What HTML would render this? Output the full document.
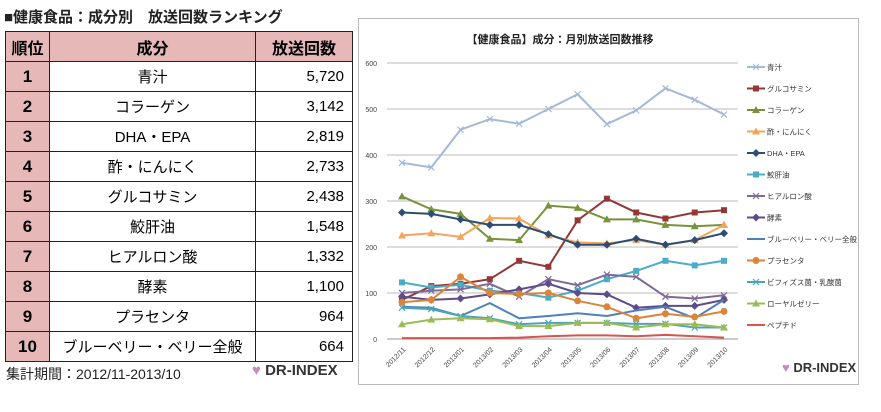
<!DOCTYPE html>
<html><head><meta charset="utf-8"><style>
body{margin:0;width:881px;height:412px;background:#fff;position:relative;overflow:hidden;font-family:"Liberation Sans","Noto Sans CJK JP",sans-serif}
#title{position:absolute;left:4px;top:6px;font-size:15px;font-weight:bold;color:#222}
table{position:absolute;left:5px;top:31px;border-collapse:collapse;font-size:15px}
td,th{border:1px solid #222;height:29px;padding:0}
th{background:#e6b9b8;font-size:16px}
td.r{background:#e6b9b8;text-align:center;font-weight:bold;font-size:17px;width:43px}
td.n{text-align:center;width:205px}
td.v{text-align:right;padding-right:8px;width:88px}
#period{position:absolute;left:6px;top:364px;font-size:14px;color:#222}
.logo{position:absolute;font-weight:bold;color:#333;font-size:15px}
.logo span{color:#c98ab8}
#chartbox{position:absolute;left:358px;top:18px;width:499px;height:365px;border:1px solid #bbb}
</style></head><body>
<div id="title">■健康食品：成分別　放送回数ランキング</div>
<table>
<tr><th>順位</th><th>成分</th><th>放送回数</th></tr>
<tr><td class="r">1</td><td class="n">青汁</td><td class="v">5,720</td></tr>
<tr><td class="r">2</td><td class="n">コラーゲン</td><td class="v">3,142</td></tr>
<tr><td class="r">3</td><td class="n">DHA・EPA</td><td class="v">2,819</td></tr>
<tr><td class="r">4</td><td class="n">酢・にんにく</td><td class="v">2,733</td></tr>
<tr><td class="r">5</td><td class="n">グルコサミン</td><td class="v">2,438</td></tr>
<tr><td class="r">6</td><td class="n">鮫肝油</td><td class="v">1,548</td></tr>
<tr><td class="r">7</td><td class="n">ヒアルロン酸</td><td class="v">1,332</td></tr>
<tr><td class="r">8</td><td class="n">酵素</td><td class="v">1,100</td></tr>
<tr><td class="r">9</td><td class="n">プラセンタ</td><td class="v">964</td></tr>
<tr><td class="r">10</td><td class="n">ブルーベリー・ベリー全般</td><td class="v">664</td></tr>
</table>
<div id="period">集計期間：2012/11-2013/10</div>
<div class="logo" style="left:252px;top:362px"><span>♥</span> DR-INDEX</div>
<div id="chartbox"></div>
<div class="logo" style="left:782px;top:360px;font-size:13px"><span>♥</span> DR-INDEX</div>
<svg id="chart" width="881" height="412" style="position:absolute;left:0;top:0"></svg>
<script>
const categories=["2012/11","2012/12","2013/01","2013/02","2013/03","2013/04","2013/05","2013/06","2013/07","2013/08","2013/09","2013/10"];
const seriesNames=["青汁","グルコサミン","コラーゲン","酢・にんにく","DHA・EPA","鮫肝油","ヒアルロン酸","酵素","ブルーベリー・ベリー全般","プラセンタ","ビフィズス菌・乳酸菌","ローヤルゼリー","ペプチド"];
const aojiru=[383,373,455,478,468,500,532,467,497,545,520,488];
const glucosamine=[85,115,120,130,170,157,258,305,275,262,275,280];
const collagen=[310,282,272,218,215,290,285,260,260,248,245,248];
const vinegar=[225,230,222,263,262,225,210,208,215,205,215,248];
const dha=[275,272,260,248,248,228,205,205,218,205,215,230];
const sharkOil=[123,112,118,105,100,90,105,130,148,170,160,170];
const hyaluronic=[100,105,108,120,92,130,117,140,135,92,88,95];
const enzyme=[92,85,88,97,108,120,100,97,68,72,72,85];
const blueberry=[70,68,50,78,45,50,56,50,62,70,45,85];
const placenta=[80,85,135,100,98,100,83,70,45,55,48,60];
const bifidus=[68,65,50,45,32,35,35,35,33,33,25,25];
const royalJelly=[32,42,45,43,28,28,35,35,25,32,32,25];
const peptide=[2,2,2,2,3,6,8,8,6,9,6,3];
const yTicks=[0,100,200,300,400,500,600];
const allSeries=[aojiru,glucosamine,collagen,vinegar,dha,sharkOil,hyaluronic,enzyme,blueberry,placenta,bifidus,royalJelly,peptide];
const colors=["#a5b8d8","#953735","#77933c","#f5a55a","#2c4d75","#4bacc6","#7f6a9a","#5f4b8b","#4f81bd","#d9863a","#4aa5b8","#9bbb59","#d9534f"];
const markers=["x","sq","tri","tri","dia","sq","x","dia","none","circ","x","tri","none"];
const svg=document.getElementById('chart');const NS="http://www.w3.org/2000/svg";
function el(t,a,p){const e=document.createElementNS(NS,t);for(const k in a)e.setAttribute(k,a[k]);(p||svg).appendChild(e);return e;}
const x0=387,x1=738,yTop=63,yBot=339;
function xs(i){return 402+i*(724-402)/(categories.length-1);}
function ys(v){return yBot-(v/600)*(yBot-yTop);}
let t=el('text',{x:560,y:43,'font-size':11,'text-anchor':'middle','font-weight':'bold',fill:'#222'});


t.textContent="【健康食品】成分：月別放送回数推移";
yTicks.forEach(v=>{const g=el('line',{x1:x0,x2:x1,y1:ys(v),y2:ys(v),stroke:v===0?'#999':'#bbb','stroke-width':1});


const l=el('text',{x:x0-10,y:ys(v)+3,'font-size':7,'text-anchor':'end',fill:'#444'});


l.textContent=v;});
categories.forEach((c,i)=>{const l=el('text',{x:xs(i)+4,y:350,'font-size':7,'text-anchor':'end',fill:'#444',transform:`rotate(-45 ${xs(i)+4} 350)`});


l.textContent=c;});
function marker(type,x,y,c,parent){
 if(type==='sq')el('rect',{x:x-3,y:y-3,width:6,height:6,fill:c},parent);
 else if(type==='tri')el('polygon',{points:`${x},${y-4} ${x+4},${y+3} ${x-4},${y+3}`,fill:c},parent);
 else if(type==='dia')el('polygon',{points:`${x},${y-4} ${x+4},${y} ${x},${y+4} ${x-4},${y}`,fill:c},parent);
 else if(type==='circ')el('circle',{cx:x,cy:y,r:3.5,fill:c},parent);
 else if(type==='x'){el('path',{d:`M${x-3} ${y-3}L${x+3} ${y+3}M${x-3} ${y+3}L${x+3} ${y-3}`,stroke:c,'stroke-width':1.2},parent);}
}
allSeries.forEach((s,k)=>{const g=el('g',{});


el('polyline',{points:s.map((v,i)=>xs(i)+','+ys(v)).join(' '),fill:'none',stroke:colors[k],'stroke-width':2},g);
s.forEach((v,i)=>marker(markers[k],xs(i),ys(v),colors[k],g));
const ly=67+k*21.5;
const lg=el('g',{});


el('line',{x1:747,x2:765,y1:ly,y2:ly,stroke:colors[k],'stroke-width':2},lg);
marker(markers[k],756,ly,colors[k],lg);
const lt=el('text',{x:767,y:ly+3,'font-size':7.5,fill:'#333'},lg);lt.textContent=seriesNames[k];});
</script>
</body></html>
